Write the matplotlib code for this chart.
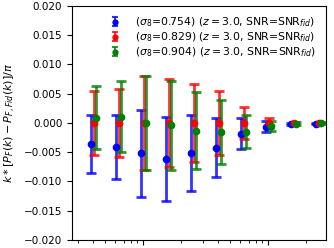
import matplotlib
matplotlib.use("Agg")
import matplotlib.pyplot as plt
from matplotlib.colors import to_rgba
from matplotlib.legend_handler import HandlerErrorbar
from matplotlib.container import ErrorbarContainer

# k bins (log spaced), small multiplicative offsets per series
k_blue = [0.0384, 0.0608, 0.0964, 0.1528, 0.2421, 0.3837, 0.6081, 0.9638, 1.528, 2.421]
k_red = [0.0403, 0.0638, 0.1012, 0.1604, 0.2542, 0.4029, 0.6385, 1.012, 1.604, 2.542]
k_green = [0.0421, 0.0666, 0.1056, 0.1675, 0.2653, 0.4205, 0.6665, 1.056, 1.675, 2.653]

y_blue = [-0.0036, -0.0041, -0.0052, -0.0061, -0.0051, -0.0042, -0.0018, -0.0006, -0.0002, -0.0001]
err_blue = [0.0049, 0.0054, 0.0074, 0.0072, 0.0065, 0.0051, 0.0027, 0.0009, 0.0002, 0.0001]
y_red = [0.0, 0.0, 0.0, 0.0, 0.0, 0.0, 0.0, 0.0, 0.0, 0.0]
err_red = [0.0054, 0.0058, 0.0080, 0.0076, 0.0067, 0.0054, 0.0028, 0.0008, 0.0002, 0.0001]
y_green = [0.0009, 0.0011, 0.0000, -0.0004, -0.0013, -0.0015, -0.0015, -0.0005, -0.0001, 0.0000]
err_green = [0.0054, 0.0060, 0.0081, 0.0076, 0.0066, 0.0055, 0.0028, 0.00085, 0.0002, 0.0001]

labels = [
    r"($\sigma_8$=0.754) ($z=3.0$, SNR=SNR$_{fid}$)",
    r"($\sigma_8$=0.829) ($z=3.0$, SNR=SNR$_{fid}$)",
    r"($\sigma_8$=0.904) ($z=3.0$, SNR=SNR$_{fid}$)",
]

fig = plt.figure(figsize=(3.34, 2.48), dpi=100)
ax = fig.add_axes([0.2156, 0.0323, 0.7596, 0.9435])

series = [
    (k_blue, y_blue, err_blue, "blue"),
    (k_red, y_red, err_red, "red"),
    (k_green, y_green, err_green, "green"),
]
handles = []
for (k, y, e, c), lab in zip(series, labels):
    ax.errorbar(k, y, yerr=e, fmt="o", color=c, ecolor=to_rgba(c, 0.8),
                elinewidth=2, capsize=3.5, capthick=2, markersize=4.5)
    # smaller proxy for the legend entry
    h = ax.errorbar([float("nan")], [float("nan")], yerr=[1], fmt="o", color=c,
                    ecolor=to_rgba(c, 0.8), elinewidth=1.5, capsize=2.2,
                    capthick=1.5, markersize=3.5, label=lab)
    handles.append(h)

ax.set_xscale("log")
ax.set_xlim(0.02704, 2.894)
ax.set_ylim(-0.02, 0.02)
ax.set_yticks([-0.02, -0.015, -0.01, -0.005, 0.0, 0.005, 0.01, 0.015, 0.02])
ax.tick_params(labelsize=7.5)
ax.set_ylabel(r"$k*[P_F(k)-P_{F,Fid}(k)]/\pi$", fontsize=8)
ax.legend(handles=handles, loc="upper right", frameon=False, fontsize=7.8,
          labelspacing=0.12, borderaxespad=0.5, handletextpad=0.85,
          handler_map={ErrorbarContainer: HandlerErrorbar(xerr_size=0.42)})

fig.savefig("out.png", dpi=100)
